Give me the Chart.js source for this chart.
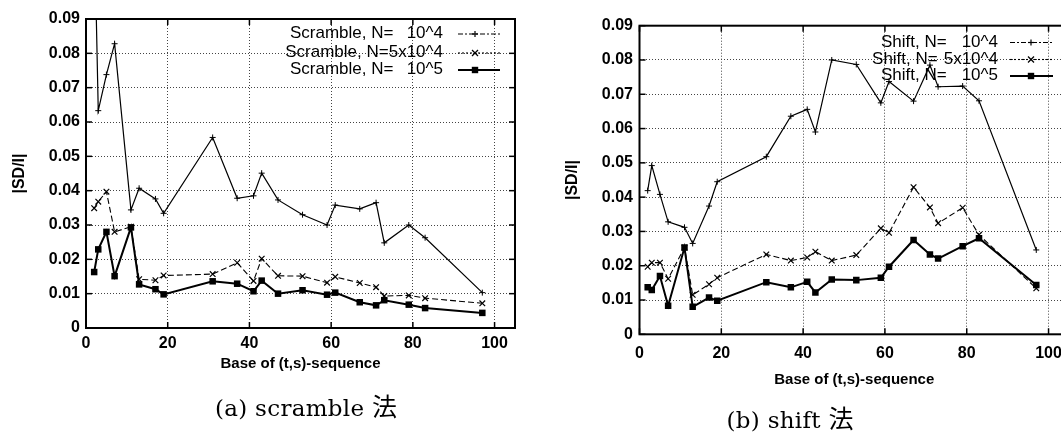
<!DOCTYPE html>
<html><head><meta charset="utf-8">
<script src="https://cdn.jsdelivr.net/npm/chart.js@4.4.0/dist/chart.umd.min.js"></script>
<style>
html,body{margin:0;padding:0;background:#fff;overflow:hidden;}
#wrap{position:relative;width:1061px;height:436px;overflow:hidden;background:#fff;}
canvas{position:absolute;top:0;}
#k1{left:0;}
#k2{left:550px;}
.cap{position:absolute;font-family:"DejaVu Serif","Liberation Serif",serif;font-size:23px;letter-spacing:0.3px;color:#000;white-space:nowrap;transform:translate(-50%,-50%);}
.cj{font-family:"Noto Sans CJK JP","Noto Sans CJK SC",sans-serif;font-size:25px;letter-spacing:0;}
</style></head><body>
<div id="wrap">
<canvas id="k1" width="540" height="436"></canvas>
<canvas id="k2" width="540" height="436"></canvas>
<div class="cap" style="left:306px;top:405px;">(a) scramble <span class="cj">法</span></div>
<div class="cap" style="left:790px;top:417px;">(b) shift <span class="cj">法</span></div>
</div>
<script>
// ---- data ----
const bases = [2,3,5,7,11,13,17,19,31,37,41,43,47,53,59,61,67,71,73,79,83,97];
const scramble1e4 = [0.120,0.0633,0.0738,0.0828,0.0344,0.0407,0.0376,0.0334,0.0555,0.0378,0.0385,0.0451,0.0373,0.0330,0.0300,0.0358,0.0347,0.0365,0.0248,0.0300,0.0263,0.0103];
const scramble5e4 = [0.0349,0.0368,0.0397,0.0280,0.0295,0.0142,0.0139,0.0153,0.0157,0.0190,0.0137,0.0202,0.0152,0.0151,0.0132,0.0149,0.0131,0.0119,0.0093,0.0095,0.0087,0.0072];
const scramble1e5 = [0.0163,0.0229,0.0280,0.0151,0.0293,0.0127,0.0113,0.0098,0.0136,0.0129,0.0107,0.0138,0.0100,0.0110,0.0097,0.0103,0.0075,0.0066,0.0081,0.0068,0.0058,0.0044];
const shift1e4 = [0.0419,0.0492,0.0408,0.0328,0.0312,0.0265,0.0374,0.0445,0.0518,0.0636,0.0656,0.0590,0.0800,0.0787,0.0675,0.0737,0.0680,0.0785,0.0722,0.0724,0.0681,0.0246];
const shift5e4 = [0.0197,0.0209,0.0209,0.0162,0.0253,0.0115,0.0146,0.0165,0.0233,0.0215,0.0224,0.0241,0.0215,0.0231,0.0309,0.0296,0.0429,0.0370,0.0324,0.0369,0.0290,0.0134];
const shift1e5 = [0.0137,0.0129,0.0170,0.0083,0.0253,0.0080,0.0107,0.0098,0.0152,0.0137,0.0153,0.0122,0.0160,0.0158,0.0165,0.0197,0.0275,0.0233,0.0221,0.0257,0.0280,0.0144];
const xTickValues = [0,20,40,60,80,100];
const yTickValues = [0,0.01,0.02,0.03,0.04,0.05,0.06,0.07,0.08,0.09];
const yTickLabels = ['0','0.01','0.02','0.03','0.04','0.05','0.06','0.07','0.08','0.09'];
const xTitle = 'Base of (t,s)-sequence';
const yTitle = '|SD/I|';
const legendA = [['Scramble, N=','10^4'],['Scramble, N=','5x10^4'],['Scramble, N=','10^5']];
const legendB = [['Shift, N=','10^4'],['Shift, N=','5x10^4'],['Shift, N=','10^5']];

// ---- helpers ----
function pts(ys){ return bases.map((x,i)=>({x:x, y:ys[i]})); }
function sets(a,b,c){
  return [
    {data:pts(a), borderColor:'#000', borderWidth:1.2, pointStyle:'cross', pointRadius:3, pointBorderWidth:1, pointBorderColor:'#000', pointBackgroundColor:'#000', fill:false, tension:0},
    {data:pts(b), borderColor:'#000', borderWidth:1.1, borderDash:[6,3], pointStyle:'crossRot', pointRadius:4, pointBorderWidth:1.2, pointBorderColor:'#000', pointBackgroundColor:'#000', fill:false, tension:0},
    {data:pts(c), borderColor:'#000', borderWidth:2, pointStyle:'rect', pointRadius:4.6, pointBorderWidth:0, pointBackgroundColor:'#000', pointBorderColor:'#000', fill:false, tension:0}
  ];
}
function line(ctx,x1,y1,x2,y2){ctx.beginPath();ctx.moveTo(x1,y1);ctx.lineTo(x2,y2);ctx.stroke();}

const gnuBox = {
  id:'gnuBox',
  afterDatasetsDraw(chart){
    const {ctx, chartArea:a, scales:{x,y}} = chart;
    ctx.save();
    ctx.strokeStyle='#000'; ctx.lineWidth=1.5; ctx.setLineDash([]);
    xTickValues.forEach(v=>{const p=x.getPixelForValue(v); line(ctx,p,a.bottom,p,a.bottom-6); line(ctx,p,a.top,p,a.top+6);});
    yTickValues.forEach(v=>{const p=y.getPixelForValue(v); line(ctx,a.left,p,a.left+6,p); line(ctx,a.right,p,a.right-6,p);});
    ctx.lineWidth=2;
    ctx.strokeRect(a.left,a.top,a.right-a.left,a.bottom-a.top);
    // legend
    const L = chart.options.plugins.gnuLegend;
    ctx.font = '17px "Liberation Sans", Arial, sans-serif';
    ctx.fillStyle='#000'; ctx.textBaseline='middle';
    L.labels.forEach((lab,i)=>{
      const ty=L.rows[i];
      const sw = ctx.measureText(lab[1]).width, pw = ctx.measureText(lab[0]).width;
      const px = Math.min(L.prefixX[i], L.suffixX - sw - pw - L.gap[i]);
      ctx.textAlign='left'; ctx.fillText(lab[0], px, ty);
      ctx.textAlign='right'; ctx.fillText(lab[1], L.suffixX, ty);
      const sy = L.sampleY[i];
      ctx.lineWidth = i===2 ? 2 : 1.1;
      ctx.setLineDash(i===0 ? [5,2,2,2] : (i===1 ? [2,2] : []));
      line(ctx, L.sampleX[0], sy, L.sampleX[1], sy);
      ctx.setLineDash([]);
      const mx=L.markX;
      ctx.lineWidth=1.2;
      if(i===0){ line(ctx,mx-3,sy,mx+3,sy); line(ctx,mx,sy-3,mx,sy+3); }
      else if(i===1){ line(ctx,mx-3,sy-3,mx+3,sy+3); line(ctx,mx-3,sy+3,mx+3,sy-3); }
      else { ctx.fillRect(mx-3.2,sy-3.2,6.4,6.4); }
    });
    ctx.restore();
  }
};

function opts(g){
  const tickFont = {family:'"Liberation Sans", Arial, sans-serif', size:16, weight:'bold'};
  return {
    responsive:false, animation:false, devicePixelRatio:1,
    layout:{padding:{left:0, top:g.padTop, right:g.padRight, bottom:0}},
    plugins:{legend:{display:false}, tooltip:{enabled:false}, gnuLegend:g.legend},
    scales:{
      x:{type:'linear', min:0, max:105,
        afterBuildTicks:s=>{ s.ticks = xTickValues.map(v=>({value:v})); },
        afterFit:s=>{ s.height = g.xAxisH; },
        ticks:{font:tickFont, color:'#000', padding:g.xTickPad, maxRotation:0, autoSkip:false},
        grid:{color:'#444', lineWidth:1, drawTicks:false},
        border:{display:false, dash:[1,2]},
        title:{display:true, text:xTitle, color:'#000', font:{family:'"Liberation Sans", Arial, sans-serif', size:15, weight:'bold'}, padding:{top:0, bottom:g.xTitlePad}}
      },
      y:{type:'linear', min:0, max:0.09,
        afterBuildTicks:s=>{ s.ticks = yTickValues.map(v=>({value:v})); },
        afterFit:s=>{ s.width = g.yAxisW; },
        ticks:{font:tickFont, color:'#000', padding:g.yTickPad, callback:(v)=>yTickLabels[yTickValues.indexOf(v)]},
        grid:{color:'#444', lineWidth:1, drawTicks:false},
        border:{display:false, dash:[1,2]},
        title:{display:true, text:yTitle, color:'#000', font:{family:'"Liberation Sans", Arial, sans-serif', size:16, weight:'bold'}, padding:{top:g.yTitlePad, bottom:0}}
      }
    }
  };
}

new Chart(document.getElementById('k1'), {
  type:'line',
  data:{datasets:sets(scramble1e4, scramble5e4, scramble1e5)},
  options:opts({padTop:19, padRight:25, yAxisW:86, xAxisH:108, xTickPad:6.4, xTitlePad:63, yTickPad:6, yTitlePad:10.4,
    legend:{labels:legendA, rows:[33.5,52,69.5], prefixX:[290,292,290], gap:[4,0,4], suffixX:443, sampleY:[34,53,70], sampleX:[458,500], markX:475}}),
  plugins:[gnuBox]
});
new Chart(document.getElementById('k2'), {
  type:'line',
  data:{datasets:sets(shift1e4, shift5e4, shift1e5)},
  options:opts({padTop:25.7, padRight:21, yAxisW:89.5, xAxisH:101.7, xTickPad:10, xTitlePad:47, yTickPad:6.5, yTitlePad:13.4,
    legend:{labels:legendB, rows:[42,59,75.5], prefixX:[331,323,331], gap:[4,6,4], suffixX:448, sampleY:[42.5,59.5,76], sampleX:[460,503], markX:481}}),
  plugins:[gnuBox]
});
</script>
</body></html>
